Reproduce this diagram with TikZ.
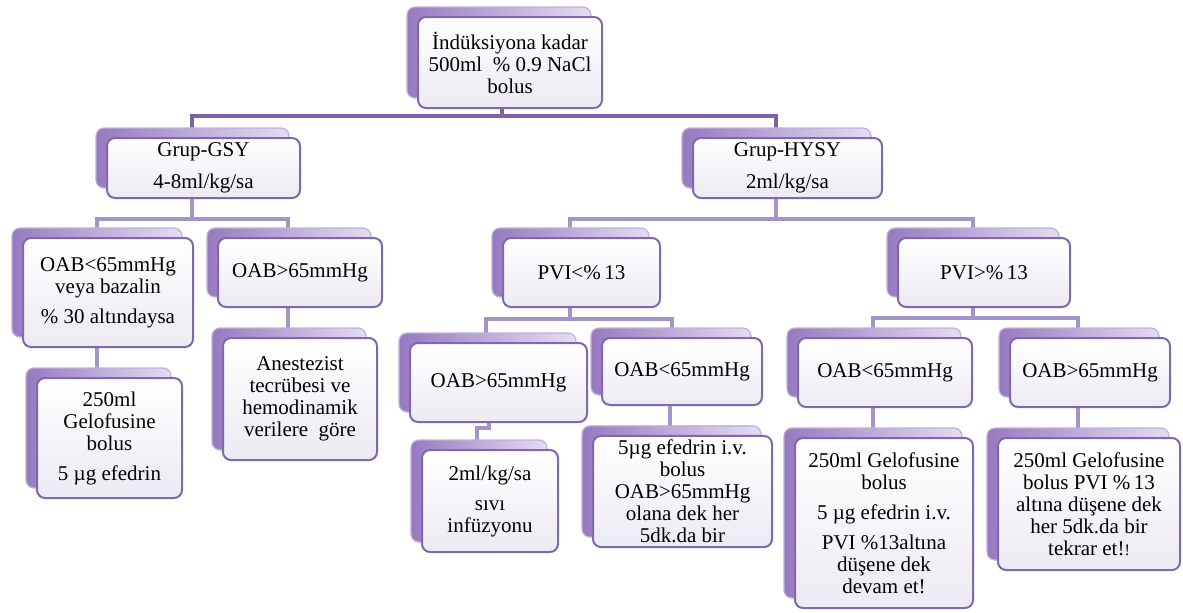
\documentclass[tikz,border=0pt]{standalone}
\usepackage{fontspec}
\setmainfont{Liberation Serif}
\usepackage{tikz}
\usetikzlibrary{shadows}
\usetikzlibrary{backgrounds}
\definecolor{boxedge}{RGB}{128,104,170}
\definecolor{boxfoot}{RGB}{236,234,242}
\definecolor{backdark}{RGB}{150,122,192}
\definecolor{backlight}{RGB}{228,220,244}
\definecolor{backedge}{RGB}{190,178,215}
\definecolor{linkdark}{RGB}{125,98,168}
\definecolor{linklight}{RGB}{165,148,200}
\tikzset{box/.style = {draw=boxedge, line width=1pt, rounded corners=4pt,
    top color=white, bottom color=boxfoot, align=center, inner sep=2pt,
    font=\fontsize{10.5}{11}\selectfont,
    copy shadow={shadow xshift=-5.5pt, shadow yshift=5pt, left color=backdark,
      right color=backlight, draw=backedge, line width=0.6pt}}}
\tikzset{linkA/.style = {draw=linkdark, line width=2pt}}
\tikzset{linkB/.style = {draw=linklight, line width=2pt}}

\begin{document}
\begin{tikzpicture}[x=0.5pt,y=-0.5pt]
                    \useasboundingbox (0,0) rectangle (1183,612);

                    \node[box, minimum width=92pt, minimum height=45.5pt] (top) at (510,62.5) {İndüksiyona kadar\\500ml\ \ \% 0.9 NaCl\\bolus};

                    \node[box, minimum width=96.5pt, minimum height=30pt] (gsy) at (203.5,168) {Grup-GSY\\[5pt]4-8ml/kg/sa};
                    \node[box, minimum width=94.5pt, minimum height=30pt] (hysy) at (787.5,168) {Grup-HYSY\\[5pt]2ml/kg/sa};

                    \node[box, minimum width=85pt, minimum height=54.5pt] (gA) at (108,292.5) {OAB<65mmHg\\veya bazalin\\[4pt]\% 30 altındaysa};
                    \node[box, minimum width=82pt, minimum height=34.5pt] (gB) at (300,272.5) {OAB>65mmHg};
                    \node[box, minimum width=72.5pt, minimum height=60pt] (gA1) at (109.5,438) {250ml\\Gelofusine\\bolus\\[4pt]5 µg efedrin};
                    \node[box, minimum width=77pt, minimum height=61pt] (gB1) at (300,399) {Anestezist\\tecrübesi ve\\hemodinamik\\verilere\ \ göre};

                    \node[box, minimum width=78.5pt, minimum height=34.5pt] (pl) at (581.5,272.5) {PVI<\%\,13};
                    \node[box, minimum width=86pt, minimum height=34.5pt] (pr) at (984,272.5) {PVI>\%\,13};

                    \node[box, minimum width=88.5pt, minimum height=39.5pt] (plA) at (498.5,382.5) {OAB>65mmHg};
                    \node[box, minimum width=80pt, minimum height=33.5pt] (plB) at (682,371.5) {OAB<65mmHg};
                    \node[box, minimum width=68pt, minimum height=51pt] (plA1) at (490,501) {2ml/kg/sa\\[4pt]sıvı\\infüzyonu};
                    \node[box, minimum width=89.5pt, minimum height=53.5pt] (plB1) at (682.5,491.5) {5µg efedrin i.v.\\bolus\\OAB>65mmHg\\olana dek her\\5dk.da bir};

                    \node[box, minimum width=87pt, minimum height=34.5pt] (prA) at (885,372.5) {OAB<65mmHg};
                    \node[box, minimum width=80pt, minimum height=34.5pt] (prB) at (1090,372.5) {OAB>65mmHg};
                    \node[box, minimum width=89pt, minimum height=85pt] (prA1) at (884,523) {250ml Gelofusine\\bolus\\[4pt]5 µg efedrin i.v.\\[4pt]PVI \%13altına\\düşene dek\\devam et!};
                    \node[box, minimum width=91pt, minimum height=66pt] (prB1) at (1089,504) {250ml Gelofusine\\bolus PVI \%\,13\\altına düşene dek\\her 5dk.da bir\\tekrar et!{\footnotesize !}};

                    \begin{pgfonlayer}{background}
                    \draw[linkA] ([xshift=-4pt]top.south) -- ++(0,7) -| ([xshift=-6pt]gsy.north);
                    \draw[linkA] ([xshift=-4pt]top.south) -- ++(0,7) -| ([xshift=-6pt]hysy.north);

                    \draw[linkB] ([xshift=-6pt]gsy.south) -- ++(0,20) -| ([xshift=-5.5pt]gA.north);
                    \draw[linkB] ([xshift=-6pt]gsy.south) -- ++(0,20) -| ([xshift=-6pt]gB.north);
                    \draw[linkB] ([xshift=-5.5pt]gA.south) -- ([xshift=-5.5pt]gA.south |- gA1.north);
                    \draw[linkB] ([xshift=-6pt]gB.south) -- ([xshift=-6pt]gB.south |- gB1.north);

                    \draw[linkB] ([xshift=-6pt]hysy.south) -- ++(0,20) -| ([xshift=-6pt]pl.north);
                    \draw[linkB] ([xshift=-6pt]hysy.south) -- ++(0,20) -| ([xshift=-5.5pt]pr.north);

                    \draw[linkB] ([xshift=-6pt]pl.south) -- ++(0,11) -| ([xshift=-6.5pt]plA.north);
                    \draw[linkB] ([xshift=-6pt]pl.south) -- ++(0,11) -| ([xshift=-5pt]plB.north);
                    \draw[linkB] ([xshift=-5pt]plA.south) -- ++(0,5) -| ([xshift=-6.5pt]plA1.north);
                    \draw[linkB] ([xshift=-6pt]plB.south) -- ([xshift=-6pt]plB.south |- plB1.north);

                    \draw[linkB] ([xshift=-5.5pt]pr.south) -- ++(0,10) -| ([xshift=-6pt]prA.north);
                    \draw[linkB] ([xshift=-5.5pt]pr.south) -- ++(0,10) -| ([xshift=-6pt]prB.north);
                    \draw[linkB] ([xshift=-6pt]prA.south) -- ([xshift=-6pt]prA.south |- prA1.north);
                    \draw[linkB] ([xshift=-6pt]prB.south) -- ([xshift=-6pt]prB.south |- prB1.north);
                    \end{pgfonlayer}
                \end{tikzpicture}
\end{document}
